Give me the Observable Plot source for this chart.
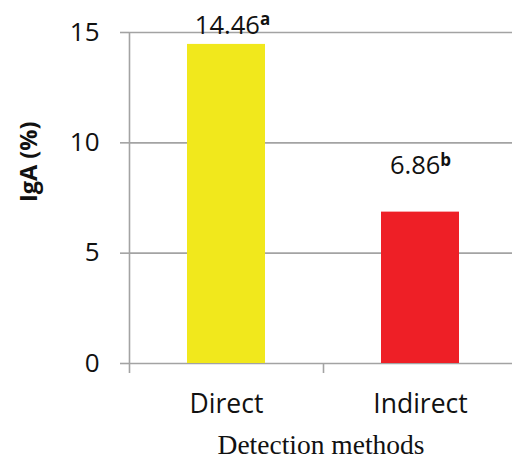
<!DOCTYPE html>
<html>
<head>
<meta charset="utf-8">
<script src="https://cdn.jsdelivr.net/npm/d3@7"></script>
<script src="https://cdn.jsdelivr.net/npm/@observablehq/plot@0.6"></script>
<style>
  html, body { margin: 0; padding: 0; background: #fff; }
  #chart svg { display: block; }
</style>
</head>
<body>
<div id="chart"></div>
<script>
const methods = ["Direct", "Indirect"];
const igaValues = [14.46, 6.86];
const sigLetters = ["a", "b"];
const barColors = ["#F1E81C", "#EE1F26"];
const yTicks = [0, 5, 10, 15];

const data = methods.map((m, i) => ({method: m, value: igaValues[i], letter: sigLetters[i]}));
const gray = "#A3A3A3";
const font = "'Open Sans', sans-serif";

const chart = Plot.plot({
  width: 512,
  height: 464,
  marginTop: 32,
  marginBottom: 101,
  marginLeft: 129,
  marginRight: 0,
  style: {fontFamily: font, fontSize: "25px", color: "#111", background: "#fff"},
  x: {domain: methods, range: [129, 517], paddingInner: 0.6, paddingOuter: 0.3, label: null},
  y: {domain: [0, 15], label: null},
  color: {domain: methods, range: barColors},
  marks: [
    Plot.gridY(yTicks, {stroke: gray, strokeOpacity: 1, strokeWidth: 1.6}),
    Plot.axisY(yTicks, {tickSize: 9, tickPadding: 21, stroke: gray, strokeWidth: 1.6, fontSize: 26, fill: "#111"}),
    Plot.axisX({tickSize: 0, tickPadding: 31, fontSize: 26.5, fill: "#111"}),
    Plot.ruleX([methods[0]], {x: d => d, dx: -97, y1: 15, y2: 0, insetBottom: -10, stroke: gray, strokeWidth: 1.6}),
    Plot.ruleX([methods[1]], {x: d => d, dx: -97, y1: 0, y2: 0, insetBottom: -10, stroke: gray, strokeWidth: 1.6}),
    Plot.barY(data, {x: "method", y: "value", fill: "method"}),
    Plot.text(data.filter(d => d.method === "Direct"), {x: "method", y: "value", text: d => d.value.toFixed(2), dx: 6, dy: -19, fontSize: 25.5, fill: "#111", className: "vlabel"}),
    Plot.text(data.filter(d => d.method === "Indirect"), {x: "method", y: "value", text: d => d.value.toFixed(2), dx: 0, dy: -46, fontSize: 25.5, fill: "#111", className: "vlabel"}),
    Plot.text(["IgA (%)"], {frameAnchor: "left", rotate: -90, dx: -100, dy: 4, fontSize: 23.5, fontWeight: "bold", fill: "#111"}),
    Plot.text(["Detection methods"], {frameAnchor: "bottom", dy: 90, fontSize: 27.5, fontFamily: "'Liberation Serif', 'Times New Roman', serif", fill: "#111"})
  ]
});

// add superscript significance letters as tspans
d3.select(chart).selectAll("g.vlabel text").each(function() {
  const t = d3.select(this);
  const v = t.text();
  const row = data.find(d => d.value.toFixed(2) === v);
  if (row) {
    t.append("tspan").attr("dy", "-0.5em").attr("font-size", 17).attr("font-weight", "bold").text(row.letter);
  }
});

document.getElementById("chart").appendChild(chart);
</script>
</body>
</html>
